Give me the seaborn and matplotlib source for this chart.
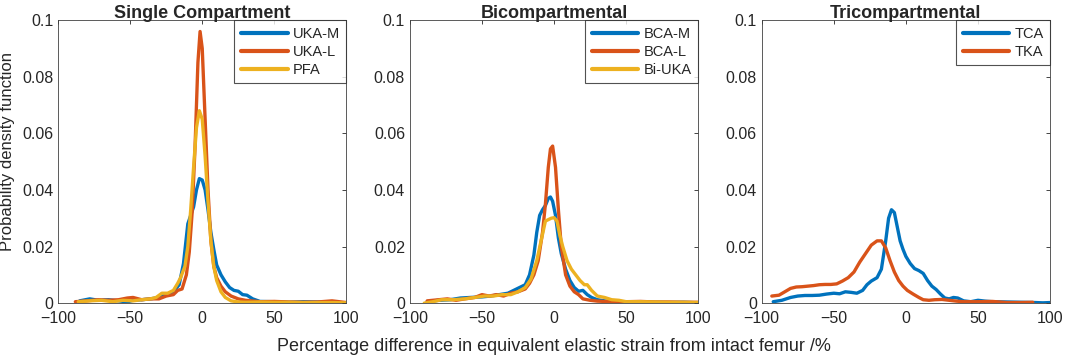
import pandas as pd
import matplotlib.pyplot as plt
import numpy as np
import seaborn as sns

# Single compartment
uka_m_x = [-85, -78, -72, -65, -58, -52, -48, -42, -36, -30, -25, -20, -16, -13, -10, -8, -6, -4, -2, 0, 2, 4, 6, 8, 10, 13, 16, 19, 22, 25, 28, 31, 35, 40, 50, 60, 70, 80, 90, 100]
uka_m_y = [0.0008, 0.0015, 0.0010, 0.0012, 0.0008, 0.0004, 0.0010, 0.0012, 0.0015, 0.0020, 0.0030, 0.0040, 0.0065, 0.0140, 0.0280, 0.0310, 0.0340, 0.0400, 0.0440, 0.0435, 0.0400, 0.0330, 0.0250, 0.0190, 0.0135, 0.0100, 0.0075, 0.0055, 0.0045, 0.0042, 0.0030, 0.0028, 0.0015, 0.0006, 0.0005, 0.0003, 0.0005, 0.0004, 0.0003, 0.0]
uka_l_x = [-88, -80, -72, -65, -58, -52, -48, -42, -36, -30, -25, -20, -17, -14, -11, -9, -7, -5, -3, -1.5, 0, 2, 4, 6, 8, 10, 13, 16, 20, 25, 30, 40, 50, 60, 70, 80, 90, 100]
uka_l_y = [0.0005, 0.0008, 0.0012, 0.0010, 0.0012, 0.0018, 0.0020, 0.0012, 0.0015, 0.0015, 0.0025, 0.0030, 0.0045, 0.0050, 0.0100, 0.0180, 0.0320, 0.0550, 0.0850, 0.0960, 0.0900, 0.0650, 0.0400, 0.0220, 0.0130, 0.0090, 0.0060, 0.0040, 0.0025, 0.0015, 0.0010, 0.0005, 0.0006, 0.0004, 0.0003, 0.0004, 0.0008, 0.0002]
pfa_x = [-86, -78, -70, -62, -55, -48, -42, -36, -32, -28, -24, -20, -17, -15, -12, -10, -8, -6, -4, -2, 0, 2, 4, 6, 8, 10, 13, 16, 20, 25, 30, 40, 50, 60, 70, 80, 90, 100]
pfa_y = [0.0005, 0.0008, 0.0010, 0.0005, 0.0010, 0.0008, 0.0012, 0.0015, 0.0020, 0.0035, 0.0035, 0.0045, 0.0070, 0.0090, 0.0130, 0.0200, 0.0330, 0.0480, 0.0620, 0.0680, 0.0650, 0.0520, 0.0360, 0.0220, 0.0130, 0.0080, 0.0040, 0.0020, 0.0008, 0.0004, 0.0003, 0.0004, 0.0003, 0.0003, 0.0002, 0.0002, 0.0002, 0.0001]

# Bicompartmental
bca_m_x = [-88, -80, -72, -65, -58, -50, -44, -38, -32, -28, -24, -20, -17, -14, -12, -10, -8, -6, -4, -2.5, -1, 1, 3, 5, 8, 11, 14, 17, 20, 23, 26, 30, 35, 40, 50, 60, 70, 80, 90, 100]
bca_m_y = [0.0005, 0.0010, 0.0012, 0.0018, 0.0020, 0.0022, 0.0025, 0.0030, 0.0035, 0.0045, 0.0055, 0.0065, 0.0100, 0.0170, 0.0250, 0.0310, 0.0330, 0.0345, 0.0370, 0.0375, 0.0360, 0.0310, 0.0230, 0.0175, 0.0120, 0.0080, 0.0055, 0.0042, 0.0045, 0.0030, 0.0020, 0.0012, 0.0008, 0.0005, 0.0003, 0.0004, 0.0003, 0.0002, 0.0003, 0.0001]
bca_l_x = [-88, -80, -74, -68, -62, -55, -50, -45, -40, -35, -30, -25, -20, -17, -14, -11, -8, -6, -4, -2.5, -1, 1, 3, 5, 8, 11, 14, 17, 20, 25, 30, 40, 50, 60, 70, 80, 90, 100]
bca_l_y = [0.0008, 0.0012, 0.0015, 0.0010, 0.0015, 0.0020, 0.0030, 0.0025, 0.0030, 0.0025, 0.0035, 0.0040, 0.0050, 0.0070, 0.0100, 0.0150, 0.0250, 0.0350, 0.0480, 0.0545, 0.0555, 0.0480, 0.0330, 0.0200, 0.0100, 0.0060, 0.0040, 0.0030, 0.0015, 0.0010, 0.0007, 0.0005, 0.0005, 0.0006, 0.0004, 0.0004, 0.0003, 0.0003]
bi_uka_x = [-90, -84, -78, -70, -62, -55, -48, -42, -36, -30, -25, -20, -16, -12, -9, -6, -4, -2, 0, 2, 4, 6, 9, 12, 15, 18, 21, 23, 26, 30, 35, 40, 45, 50, 60, 70, 80, 90, 100]
bi_uka_y = [0.0000, 0.0005, 0.0012, 0.0012, 0.0015, 0.0020, 0.0025, 0.0025, 0.0030, 0.0030, 0.0040, 0.0055, 0.0085, 0.0150, 0.0220, 0.0290, 0.0295, 0.0300, 0.0302, 0.0290, 0.0240, 0.0200, 0.0150, 0.0120, 0.0100, 0.0080, 0.0065, 0.0065, 0.0045, 0.0025, 0.0020, 0.0012, 0.0010, 0.0005, 0.0005, 0.0004, 0.0003, 0.0003, 0.0002]

# Tricompartmental
tca_x = [-92, -86, -80, -75, -70, -65, -60, -55, -50, -46, -42, -38, -34, -30, -27, -24, -20, -17, -14, -12, -10, -8, -6, -4, -2, 0, 3, 6, 9, 12, 15, 18, 21, 24, 27, 30, 33, 36, 40, 45, 50, 55, 60, 70, 80, 90, 95, 100]
tca_y = [0.0005, 0.0010, 0.0020, 0.0025, 0.0027, 0.0027, 0.0028, 0.0032, 0.0035, 0.0033, 0.0040, 0.0038, 0.0035, 0.0045, 0.0065, 0.0078, 0.0090, 0.0120, 0.0220, 0.0300, 0.0330, 0.0320, 0.0270, 0.0220, 0.0190, 0.0165, 0.0140, 0.0122, 0.0115, 0.0105, 0.0080, 0.0060, 0.0048, 0.0032, 0.0018, 0.0015, 0.0020, 0.0018, 0.0008, 0.0005, 0.0010, 0.0007, 0.0005, 0.0004, 0.0003, 0.0002, 0.0001, 0.0002]
tka_x = [-93, -88, -84, -80, -76, -72, -68, -64, -60, -56, -52, -48, -44, -40, -36, -32, -28, -24, -20, -17, -14, -11, -8, -5, -2, 1, 5, 9, 12, 16, 20, 25, 30, 35, 40, 50, 60, 70, 80, 88]
tka_y = [0.0025, 0.0028, 0.0040, 0.0052, 0.0057, 0.0058, 0.0060, 0.0062, 0.0065, 0.0066, 0.0066, 0.0068, 0.0078, 0.0090, 0.0110, 0.0145, 0.0175, 0.0205, 0.0220, 0.0220, 0.0195, 0.0150, 0.0110, 0.0080, 0.0060, 0.0045, 0.0032, 0.0020, 0.0012, 0.0010, 0.0012, 0.0013, 0.0010, 0.0007, 0.0005, 0.0005, 0.0006, 0.0002, 0.0002, 0.0003]

panels = [
    ("Single Compartment", [("UKA-M", uka_m_x, uka_m_y), ("UKA-L", uka_l_x, uka_l_y), ("PFA", pfa_x, pfa_y)]),
    ("Bicompartmental", [("BCA-M", bca_m_x, bca_m_y), ("BCA-L", bca_l_x, bca_l_y), ("Bi-UKA", bi_uka_x, bi_uka_y)]),
    ("Tricompartmental", [("TCA", tca_x, tca_y), ("TKA", tka_x, tka_y)]),
]
colors = ["#0072BD", "#D95319", "#EDB120"]

sns.set_style("white")
plt.rcParams['font.family'] = ['Liberation Sans', 'DejaVu Sans']

fig, axes = plt.subplots(1, 3, figsize=(10.65, 3.6), dpi=100)
fig.subplots_adjust(left=0.0545, right=0.986, top=0.944, bottom=0.158, wspace=0.22)

for ax, (title, series) in zip(axes, panels):
    frames = []
    for name, xs, ys in series:
        frames.append(pd.DataFrame({"x": xs, "y": ys, "impl": name}))
    df = pd.concat(frames, ignore_index=True)
    sns.lineplot(data=df, x="x", y="y", hue="impl", palette=colors[:len(series)],
                 linewidth=2.4, sort=False, ax=ax)
    ax.set_xlim(-100, 100)
    ax.set_ylim(0, 0.1)
    ax.set_xticks([-100, -50, 0, 50, 100])
    ax.set_yticks([0, 0.02, 0.04, 0.06, 0.08, 0.1])
    ax.set_yticklabels(["0", "0.02", "0.04", "0.06", "0.08", "0.1"])
    ax.tick_params(direction="in", length=3, width=0.6, top=True, right=True,
                   labelsize=11.5, colors="#262626")
    ax.tick_params(axis="x", pad=6)
    ax.tick_params(axis="y", pad=3.5)
    for s in ax.spines.values():
        s.set_color("#404040")
        s.set_linewidth(0.6)
    ax.set_title(title, fontsize=13, fontweight="bold", pad=1.5)
    ax.set_xlabel("")
    ax.set_ylabel("")
    leg = ax.legend(loc="upper right", fontsize=10.5, frameon=True, fancybox=False,
                    handlelength=3.2, borderaxespad=0.0, labelspacing=0.28,
                    borderpad=0.45, handletextpad=0.35)
    leg.get_frame().set_edgecolor("#262626")
    leg.get_frame().set_linewidth(0.8)
    for line in leg.get_lines():
        line.set_linewidth(3)

axes[0].set_ylabel("Probability density function", fontsize=12, color="#262626")
axes[0].yaxis.set_label_coords(-0.15, 0.537)
mid = axes[1].get_position()
fig.text((mid.x0 + mid.x1) / 2, 0.025,
         "Percentage difference in equivalent elastic strain from intact femur /%",
         ha="center", fontsize=13, color="#262626")

plt.savefig("out.png")
